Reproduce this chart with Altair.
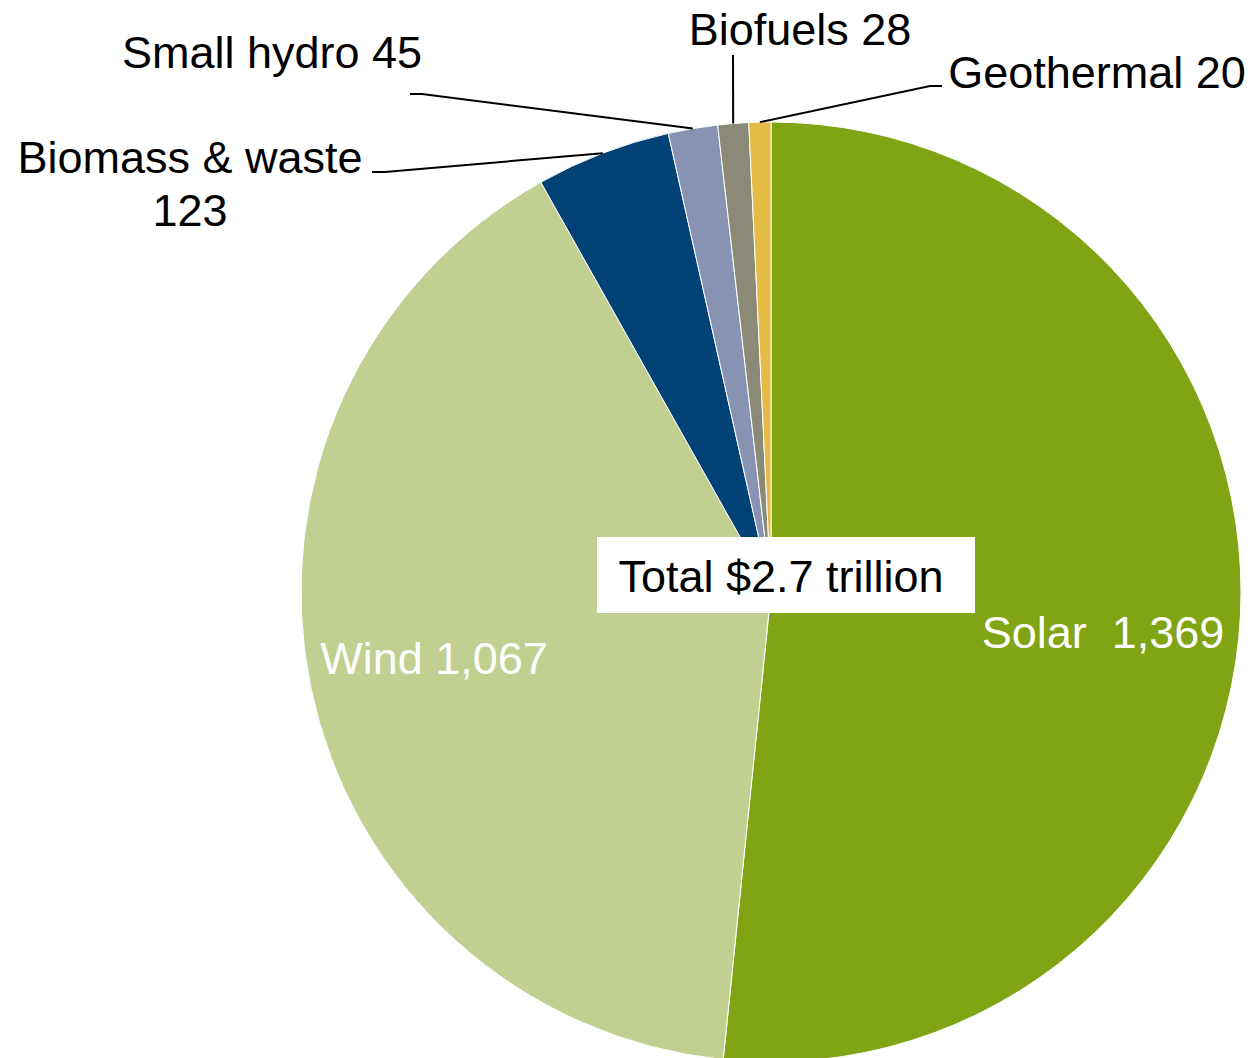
import math
import altair as alt
import pandas as pd

# ---- data ----
categories = ["Solar", "Wind", "Biomass & waste", "Small hydro", "Biofuels", "Geothermal"]
values = [1369, 1067, 123, 45, 28, 20]
label_texts = ["Solar\u00a0 1,369", "Wind 1,067", "Biomass & waste\n123", "Small hydro 45", "Biofuels 28", "Geothermal 20"]
total_text = "Total $2.7 trillion"

# ---- styling / layout ----
colors = ["#80A413", "#C1CF91", "#004275", "#8893B4", "#8A8A77", "#E4BC45"]
label_colors = ["white", "white", "black", "black", "black", "black"]
W, H = 1238, 1050
CX, CY, R = 763, 584, 470
FONT = "Liberation Sans"
FS = 45
# label anchor (center x, baseline y) in plot pixels
label_pos = [(1095, 640), (426, 666), (182, 165), (264, 60), (792, 37), (1089, 80)]
# leader-line elbows (label side), None for no leader
leader_elbows = [None, None,
                 [(377, 164), (364, 164)],
                 [(414, 86), (402, 86)],
                 [(725, 47)],
                 [(922, 78), (934, 78)]]
box = (589, 529, 967, 605)

xs = alt.Scale(domain=[0, W], nice=False, zero=False)
ys = alt.Scale(domain=[0, H], nice=False, zero=False, reverse=True)

pie_df = pd.DataFrame({"cat": categories, "val": values, "idx": list(range(len(values)))})

arc = alt.Chart(pie_df).mark_arc(outerRadius=R, stroke="white", strokeWidth=1).encode(
    theta=alt.Theta("val:Q", stack=True, scale=alt.Scale(range=[0, 2 * math.pi])),
    color=alt.Color("cat:N", scale=alt.Scale(domain=categories, range=colors), legend=None),
    order=alt.Order("idx:Q"),
    x=alt.value(CX),
    y=alt.value(CY),
)

# leader lines: pie-edge point computed from slice mid-angle
total = sum(values)
rows = []
cum = 0
for i, v in enumerate(values):
    mid = (cum + v / 2) / total * 2 * math.pi
    cum += v
    if leader_elbows[i] is None:
        continue
    pts = [(CX + R * math.sin(mid), CY - R * math.cos(mid))] + leader_elbows[i]
    for k, (px, py) in enumerate(pts):
        rows.append({"cat": categories[i], "k": k, "x": px, "y": py})
lead_df = pd.DataFrame(rows)

leaders = alt.Chart(lead_df).mark_line(color="black", strokeWidth=2).encode(
    x=alt.X("x:Q", scale=xs, axis=None),
    y=alt.Y("y:Q", scale=ys, axis=None),
    detail="cat:N",
    order="k:Q",
)

lab_df = pd.DataFrame({
    "text": label_texts,
    "x": [p[0] for p in label_pos],
    "y": [p[1] for p in label_pos],
    "c": label_colors,
})
labels = alt.Chart(lab_df).mark_text(
    font=FONT, fontSize=FS, align="center", baseline="alphabetic", lineBreak="\n", lineHeight=53
).encode(
    x=alt.X("x:Q", scale=xs, axis=None),
    y=alt.Y("y:Q", scale=ys, axis=None),
    text="text:N",
    color=alt.Color("c:N", scale=None),
)

box_df = pd.DataFrame({"x": [box[0]], "x2": [box[2]], "y": [box[1]], "y2": [box[3]],
                       "text": [total_text], "tx": [(box[0] + box[2]) / 2 - 5], "ty": [584]})
rect = alt.Chart(box_df).mark_rect(color="white").encode(
    x=alt.X("x:Q", scale=xs, axis=None), x2="x2:Q",
    y=alt.Y("y:Q", scale=ys, axis=None), y2="y2:Q",
)
total_lbl = alt.Chart(box_df).mark_text(
    font=FONT, fontSize=FS, align="center", baseline="alphabetic", color="black"
).encode(
    x=alt.X("tx:Q", scale=xs, axis=None),
    y=alt.Y("ty:Q", scale=ys, axis=None),
    text="text:N",
)

chart = alt.layer(arc, leaders, rect, total_lbl, labels).properties(
    width=W, height=H, autosize=alt.AutoSizeParams(type="none"), padding=0,
    background="white",
).configure_view(stroke=None)

chart.save("out.html", embed_options={"renderer": "svg", "actions": False})
